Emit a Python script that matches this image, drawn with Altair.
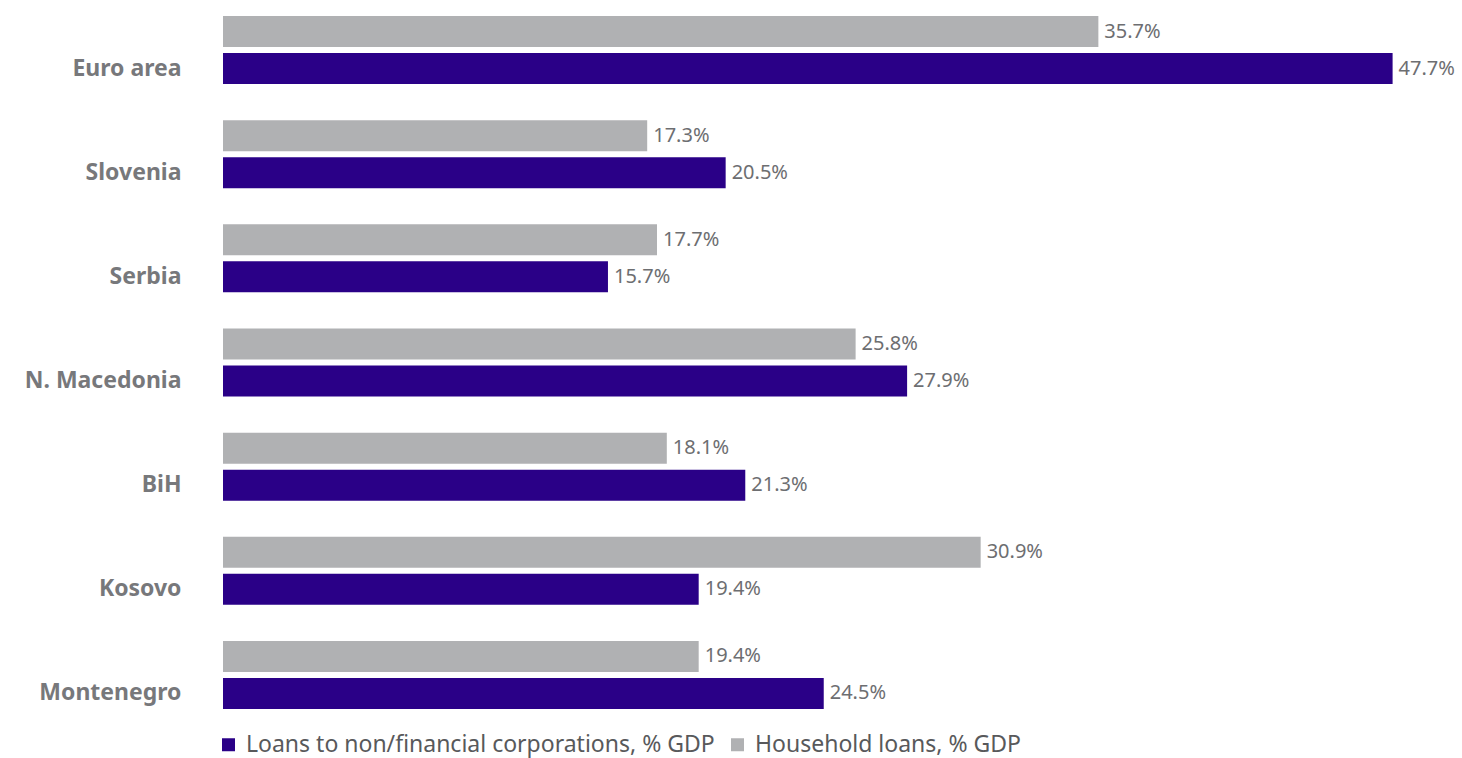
import altair as alt
import pandas as pd

countries = ["Euro area", "Slovenia", "Serbia", "N. Macedonia", "BiH", "Kosovo", "Montenegro"]
nfc_loans = [47.7, 20.5, 15.7, 27.9, 21.3, 19.4, 24.5]
household_loans = [35.7, 17.3, 17.7, 25.8, 18.1, 30.9, 19.4]
series_names = ["Loans to non/financial corporations, % GDP", "Household loans, % GDP"]
series_colors = ["#2a0087", "#b0b1b3"]

rows = []
for c, n, h in zip(countries, nfc_loans, household_loans):
    rows.append({"country": c, "series": series_names[1], "value": h})
    rows.append({"country": c, "series": series_names[0], "value": n})
df = pd.DataFrame(rows)

FONT = "Noto Sans"

y_enc = alt.Y("country:N", sort=countries,
              scale=alt.Scale(paddingInner=0.347, paddingOuter=0.154),
              axis=alt.Axis(title=None, ticks=False, domain=False, grid=False, labelPadding=42,
                            labelOffset=18.5,
                            labelFont=FONT, labelFontSize=23, labelFontWeight="bold",
                            labelColor="#77787b"))
yoff = alt.YOffset("series:N", sort=[series_names[1], series_names[0]],
                   scale=alt.Scale(paddingInner=0.162, paddingOuter=0))
x_enc = alt.X("value:Q", scale=alt.Scale(domain=[0, 50], nice=False),
              axis=None)

bars = alt.Chart(df).mark_bar().encode(
    x=x_enc, y=y_enc, yOffset=yoff,
    color=alt.Color("series:N", scale=alt.Scale(domain=series_names, range=series_colors),
                    legend=alt.Legend(title=None, orient="none", legendX=-6, legendY=733,
                                      direction="horizontal", symbolType="square",
                                      symbolSize=169, symbolStrokeWidth=0,
                                      labelFont=FONT, labelFontSize=23, labelColor="#58595b",
                                      labelLimit=0, labelBaseline="middle",
                                      columnPadding=11, labelOffset=6)),
)

labels = alt.Chart(df).transform_calculate(
    label="format(datum.value, '.1f') + '%'"
).mark_text(align="left", baseline="middle", dx=6, font=FONT, fontSize=20,
            color="#6d6e71").encode(
    x=x_enc, y=y_enc, yOffset=yoff, text="label:N"
)

chart = (bars + labels).properties(
    width=1226, height=725,
    autosize=alt.AutoSizeParams(type="none"),
    padding={"left": 223, "top": 0, "right": 13, "bottom": 33},
    background="white",
).configure_view(stroke=None, strokeWidth=0)

chart.save("out.html", embed_options={"renderer": "svg", "actions": False})
